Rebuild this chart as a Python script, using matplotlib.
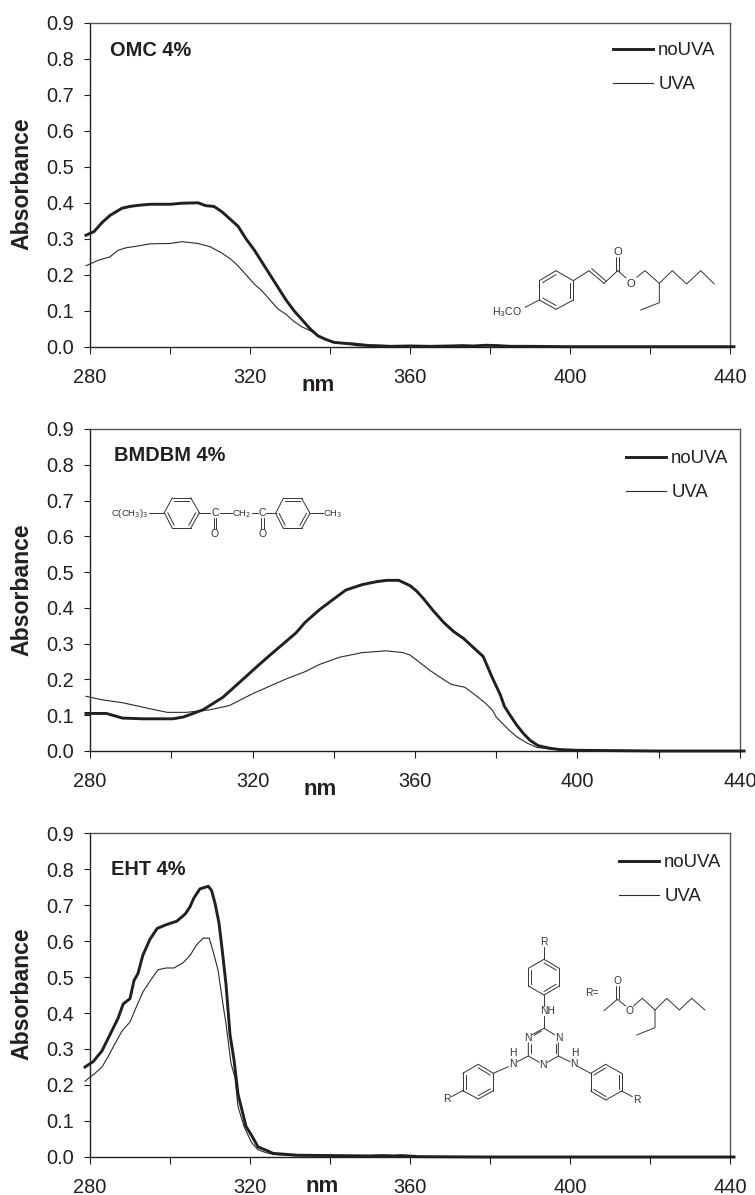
import matplotlib
matplotlib.use("Agg")
import matplotlib.pyplot as plt
import numpy as np

plt.rcParams["font.family"] = ["Liberation Sans", "DejaVu Sans"]

W, H = 755, 1195
TXT = "#231f20"

# Datos
omc_x_no = [279, 281, 283, 285, 288, 290, 292, 295, 300, 303, 307, 309, 311, 313, 315, 317, 319, 321, 323, 325, 327,
            329, 331, 333, 335, 337, 339, 341, 343, 345, 347, 350, 355, 360, 365, 370, 373, 376, 379, 382, 385, 390,
            400, 420, 441]
omc_y_no = [.31, .32, .345, .365, .385, .39, .393, .396, .396, .399, .40, .392, .39, .375, .355, .335, .30, .27, .235,
            .20, .165, .13, .10, .075, .05, .03, .02, .012, .01, .008, .005, .003, .001, .002, .001, .002, .003, .002,
            .004, .003, .001, .001, 0, 0, 0]
omc_x_uva = [279, 282, 285, 287, 289, 292, 295, 300, 303, 307, 310, 313, 315, 317, 319, 321, 323, 325, 327, 329, 331,
             333, 335, 337, 339, 341, 343, 346, 350, 355, 360, 370, 380, 390]
omc_y_uva = [.225, .24, .25, .268, .275, .28, .286, .287, .292, .287, .278, .26, .245, .225, .20, .175, .155, .13,
             .105, .09, .07, .055, .045, .032, .02, .012, .01, .01, .005, .003, .002, .002, .003, .001]

bmd_x_no = [279, 281.6, 284, 288, 293, 300.4, 303, 307.8, 312.7, 317.6, 321, 324, 330.7, 333, 336.5, 340.6, 343, 347,
            350.4, 353, 356, 358.8, 360.4, 362, 364.5, 367, 369.5, 371.9, 374.3, 376.8, 378.9, 381, 382, 383.4, 385,
            386.6, 388.3, 390.3, 393, 395.6, 399.8, 420, 441]
bmd_y_no = [.105, .105, .105, .092, .09, .09, .095, .115, .15, .20, .235, .265, .33, .36, .395, .43, .45, .465, .473,
            .477, .477, .462, .447, .427, .392, .36, .334, .315, .29, .264, .208, .157, .125, .10, .073, .05, .03,
            .015, .008, .004, .002, 0, 0]
bmd_x_uva = [279, 283, 288, 294, 299, 303.7, 309.4, 314.3, 320, 324, 328, 333, 336.5, 341.4, 347, 353, 357, 358.8,
             362, 363.7, 367, 369, 372.3, 375, 377.2, 379, 380, 381.7, 383, 385, 387.6, 390, 393, 396.5, 400]
bmd_y_uva = [.153, .143, .135, .12, .108, .108, .115, .127, .16, .18, .20, .222, .242, .262, .275, .28, .275, .268,
             .24, .225, .20, .186, .178, .155, .135, .115, .095, .075, .06, .04, .022, .01, .006, .004, .001]

eht_x_no = [278.75, 280.8, 283, 285, 287, 288.3, 290, 291, 292, 293.2, 295, 296.8, 299, 301.7, 303.8, 305, 306, 307.5,
            309.6, 310.4, 311.25, 312.25, 313, 314, 315, 316, 317, 318, 319, 320.4, 322, 324.2, 325.8, 328.3, 331.7,
            340, 350, 353, 356, 358, 362, 380, 420, 441]
eht_y_no = [.25, .265, .295, .34, .385, .425, .44, .49, .51, .56, .605, .635, .645, .655, .675, .695, .72, .745, .752,
            .74, .705, .65, .58, .48, .34, .27, .175, .13, .085, .06, .028, .018, .01, .008, .005, .004, .003, .004,
            .003, .004, .001, 0, 0, 0]
eht_x_uva = [278.75, 280, 281, 283, 284.6, 286, 288, 290, 291.7, 293.3, 295.4, 297, 299, 301, 303.3, 305, 306.7, 308.3,
             309.8, 310.8, 312, 313.3, 314, 315.25, 316.25, 317, 318.5, 320.4, 322, 324, 326, 330, 340]
eht_y_uva = [.21, .222, .23, .25, .28, .31, .35, .375, .42, .46, .495, .52, .525, .525, .54, .56, .59, .608, .608,
             .57, .52, .42, .37, .26, .22, .14, .085, .04, .02, .012, .007, .004, .002]

xticks = [280, 300, 320, 340, 360, 380, 400, 420, 440]
xlabels = ["280", "", "320", "", "360", "", "400", "", "440"]
yticks = [0.0, 0.1, 0.2, 0.3, 0.4, 0.5, 0.6, 0.7, 0.8, 0.9]
names = ["OMC 4%", "BMDBM 4%", "EHT 4%"]

fig = plt.figure(figsize=(W / 100, H / 100), dpi=100)


def panel(left, right, top, bottom, x_no, y_no, x_uva, y_uva):
    ax = fig.add_axes([left / W, 1 - bottom / H, (right - left) / W, (bottom - top) / H])
    ax.plot(x_uva, y_uva, color="#2a2a2a", lw=0.8, clip_on=False, label="UVA", zorder=3)
    ax.plot(x_no, y_no, color="#231f20", lw=2.1, clip_on=False, label="noUVA", zorder=4)
    ax.set_xlim(280, 440)
    ax.set_ylim(0, 0.9)
    ax.set_xticks(xticks)
    ax.set_xticklabels(xlabels)
    ax.set_yticks(yticks)
    ax.set_yticklabels(["%.1f" % v for v in yticks])
    ax.tick_params(axis="x", length=5, width=0.8, pad=10, labelsize=14.4, colors=TXT)
    ax.tick_params(axis="y", length=4.5, width=0.8, pad=7, labelsize=14.4, colors=TXT)
    for s in ["left", "bottom"]:
        ax.spines[s].set_linewidth(1.0)
        ax.spines[s].set_color(TXT)
    for s in ["top", "right"]:
        ax.spines[s].set_linewidth(1.0)
        ax.spines[s].set_color("#555555")
    ax.patch.set_alpha(0)
    return ax


ax1 = panel(90, 730, 23, 346.7, omc_x_no, omc_y_no, omc_x_uva, omc_y_uva)
ax2 = panel(90, 740, 429, 751, bmd_x_no, bmd_y_no, bmd_x_uva, bmd_y_uva)
ax3 = panel(90, 730, 833, 1157, eht_x_no, eht_y_no, eht_x_uva, eht_y_uva)

# capa en pixeles para textos y moleculas
ov = fig.add_axes([0, 0, 1, 1], zorder=-1)
ov.set_xlim(0, W)
ov.set_ylim(H, 0)
ov.axis("off")

for ax, pos in zip([ax1, ax2, ax3], [(613, 42), (626, 450), (619, 854)]):
    h, l = ax.get_legend_handles_labels()
    ax.legend(h[::-1], l[::-1], loc="upper left", bbox_to_anchor=pos, bbox_transform=ov.transData,
              frameon=False, borderpad=0, borderaxespad=0, fontsize=13.4, handlelength=2.15,
              handletextpad=0.28, labelspacing=0.92, labelcolor=TXT)

for name, (x, y) in zip(names, [(110, 50), (114, 455), (110.7, 869)]):
    ov.text(x, y, name, fontsize=14.4, fontweight="bold", color=TXT, va="center", ha="left")
for y in [183.5, 590, 994]:
    ov.text(22, y, "Absorbance", fontsize=16.6, fontweight="bold", color=TXT, rotation=90, va="center", ha="center")
for x, y in [(318, 385), (320, 789), (322, 1186)]:
    ov.text(x, y, "nm", fontsize=16, fontweight="bold", color=TXT, va="center", ha="center")


# dibujo de las moleculas (coordenadas de la zona ampliada x3)
def mol_tools(ox, oy):
    def px(p):
        return ox + p[0] / 3, oy + p[1] / 3

    def line(*pts):
        xy = np.array([px(p) for p in pts])
        ov.plot(xy[:, 0], xy[:, 1], color="#333333", lw=0.7, solid_capstyle="round")

    def label(x, y, s, size=7.6):
        ox2, oy2 = px((x, y))
        ov.text(ox2, oy2, s, fontsize=size, color="#333333", ha="center", va="center")

    def ring(pts, first=0):
        c = np.mean(pts, axis=0)
        n = len(pts)
        for i in range(n):
            a, b = np.array(pts[i]), np.array(pts[(i + 1) % n])
            line(a, b)
            if (i + first) % 2 == 0:
                a2 = a + (c - a) * 0.2
                b2 = b + (c - b) * 0.2
                line(a2, b2)

    return line, label, ring


# OMC
line, label, ring = mol_tools(440, 220)
ring([(348, 152), (400, 182), (400, 240), (348, 268), (298, 240), (298, 182)], 1)
line((400, 182), (447, 152))
line((447, 152), (492, 190))
line((455, 146), (498, 183))
line((492, 190), (533, 152))
line((528, 152), (528, 110))
line((538, 152), (538, 110))
line((533, 152), (558, 174))
line((590, 172), (615, 152), (658, 190), (697, 152), (740, 192), (782, 152), (823, 192))
line((658, 190), (658, 248), (602, 270))
line((255, 262), (298, 240))
label(533, 95, "O", 8.2)
label(572, 192, "O", 8.2)
label(202, 277, "H$_3$CO", 7.6)

# BMDBM
line, label, ring = mol_tools(80, 430)
ring([(253, 248), (277, 203), (332, 203), (358, 248), (332, 295), (277, 295)], 1)
ring([(587, 250), (610, 205), (665, 205), (690, 250), (665, 295), (610, 295)], 1)
line((207, 248), (253, 248))
line((358, 248), (390, 248))
line((420, 250), (455, 250))
line((515, 250), (535, 250))
line((558, 250), (587, 250))
line((690, 248), (730, 248))
for xo in [405, 547]:
    line((xo - 4, 265), (xo - 4, 297))
    line((xo + 4, 265), (xo + 4, 297))
    label(xo, 312, "O", 7.6)
    label(xo, 250, "C", 7.6)
label(150, 250, "C(CH$_3$)$_3$", 6.8)
label(486, 254, "CH$_2$", 6.8)
label(759, 254, "CH$_3$", 6.8)

# EHT
line, label, ring = mol_tools(430, 920)
ring([(342, 118), (388, 145), (388, 198), (342, 225), (295, 198), (295, 145)], 0)
ring([(482, 460), (527, 433), (575, 460), (575, 513), (527, 540), (482, 513)], 0)
ring([(190, 460), (145, 433), (98, 460), (98, 512), (145, 537), (190, 512)], 0)
line((342, 80), (342, 118))
line((342, 225), (342, 258))
line((342, 288), (342, 325))
# triazina
line((342, 325), (374, 344))
line((385, 368), (385, 408), (352, 427))
line((328, 427), (295, 408), (295, 368))
line((306, 344), (342, 325))
line((303, 372), (303, 400))
line((334, 333), (312, 346))
line((377, 372), (377, 400))
line((295, 408), (262, 425))
line((385, 408), (420, 425))
line((445, 440), (482, 460))
line((235, 440), (190, 460))
line((575, 513), (607, 530))
line((98, 512), (65, 530))
for x, y, s in [(342, 65, "R"), (353, 272, "NH"), (295, 355, "N"), (388, 355, "N"), (340, 435, "N"), (248, 400, "H"),
                (248, 432, "N"), (433, 400, "H"), (433, 432, "N"), (620, 540, "R"), (52, 537, "R"), (487, 220, "R="),
                (562, 183, "O"), (598, 272, "O")]:
    label(x, y, s, 7.4)
line((522, 272), (562, 238))
line((558, 238), (558, 198))
line((566, 238), (566, 198))
line((562, 238), (587, 258))
line((610, 258), (637, 235), (675, 270), (710, 235), (748, 270), (785, 235), (825, 270))
line((675, 270), (675, 323), (620, 345))

fig.savefig("out.png", dpi=100)
